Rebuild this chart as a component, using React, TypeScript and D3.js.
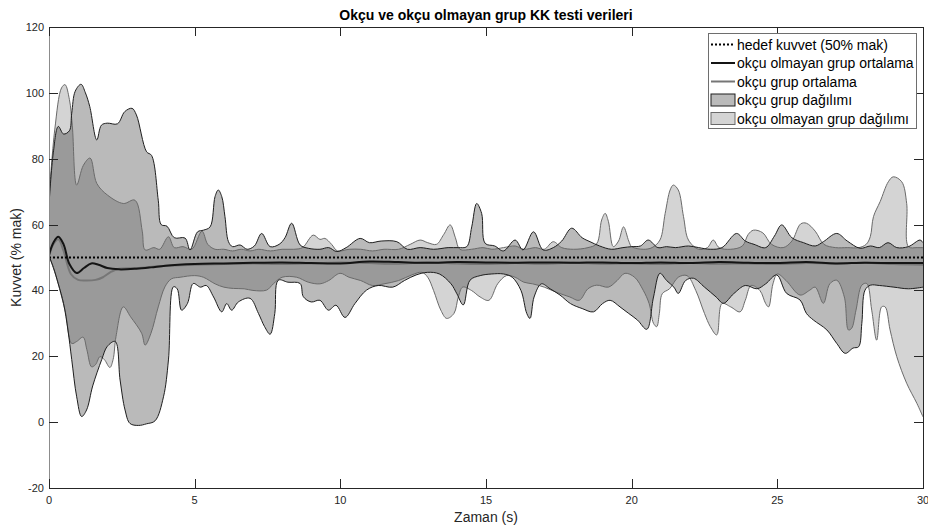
import React from 'react';
import * as d3 from 'd3';

// [time (s), force (% max)]
const archerUpper: [number, number][] = [
  [0, 66], [0.15, 82], [0.32, 89.8], [0.5, 87.5], [0.7, 88.5], [0.78, 93.8], [0.9, 100.5], [1.1, 102.6],
  [1.25, 100], [1.4, 95.8], [1.64, 85.7], [1.8, 90.2], [2.0, 90.8], [2.35, 90.6], [2.6, 94.3], [2.85, 95.3],
  [3.0, 93.3], [3.35, 82.1], [3.52, 81], [3.75, 67.4], [3.85, 60], [4.05, 59.5], [4.3, 56], [4.67, 55.9],
  [4.84, 52.3], [5.1, 57.8], [5.3, 58.3], [5.53, 59.3], [5.7, 68.5], [5.81, 70.5], [5.93, 68.5], [6.04, 62.4],
  [6.16, 54.8], [6.3, 53.3], [6.56, 53.8], [6.8, 52.5], [7.05, 53.5], [7.3, 57.3], [7.59, 53.3], [7.9, 54],
  [8.1, 56], [8.33, 60.4], [8.62, 53.8], [8.9, 52.8], [9.3, 52.5], [9.6, 53], [9.88, 51.8], [10.2, 53],
  [10.68, 55.8], [11.0, 54.5], [11.4, 55], [11.94, 54.8], [12.3, 52.5], [12.74, 53], [13.2, 52.5], [13.7, 53],
  [14.05, 53], [14.34, 53.3], [14.51, 59.3], [14.68, 66.4], [14.85, 63.4], [14.97, 54.3], [15.3, 53.5],
  [15.6, 52], [16.0, 55.3], [16.27, 52.3], [16.63, 57.8], [16.96, 52.3], [17.31, 53], [17.6, 55], [17.94, 58.9],
  [18.3, 56], [18.57, 54.8], [18.9, 53.5], [19.3, 52.5], [19.7, 53], [20.0, 53.3], [20.3, 53.5], [20.57, 55.3],
  [20.9, 53], [21.2, 53.3], [21.5, 53], [21.95, 53.5], [22.3, 53], [22.7, 52.5], [23.1, 53], [23.6, 57.3],
  [23.9, 55], [24.2, 54], [24.6, 53], [24.9, 56.5], [25.15, 59.9], [25.5, 56], [25.9, 54.5], [26.3, 53.5],
  [26.58, 54.8], [27.04, 57.3], [27.4, 55], [27.84, 52.8], [28.2, 53.5], [28.5, 53], [28.8, 54.5], [29.1, 53],
  [29.5, 53.3], [29.9, 55.3], [30, 54.5],
];

const archerLower: [number, number][] = [
  [0, 50.5], [0.15, 47], [0.32, 42], [0.5, 36], [0.65, 28], [0.78, 19], [0.95, 7.7], [1.12, 1.7], [1.29, 3.7],
  [1.5, 11], [1.81, 19], [2.0, 23], [2.27, 24.5], [2.44, 12.8], [2.61, 3.7], [2.78, -0.4], [3.07, -1],
  [3.35, -0.5], [3.64, 0.4], [3.93, 7.7], [4.1, 18.9], [4.27, 41.1], [4.4, 40.5], [4.55, 34], [4.75, 36],
  [4.95, 42.1], [5.2, 41], [5.4, 41.5], [5.65, 38], [5.93, 33.5], [6.1, 36], [6.27, 34], [6.5, 36.5],
  [6.9, 37.6], [7.19, 33], [7.4, 29], [7.59, 26.7], [7.75, 33], [7.87, 43.1], [8.2, 42.5], [8.62, 42.1],
  [8.73, 38.1], [9.0, 36.5], [9.3, 37], [9.59, 34], [9.85, 35.5], [10.16, 31.8], [10.5, 36], [10.9, 40.1],
  [11.3, 41.5], [11.8, 41], [12.2, 43], [12.6, 44.7], [13.0, 45.5], [13.4, 45], [13.8, 42], [14.0, 39],
  [14.22, 35.6], [14.45, 43.1], [14.8, 44.5], [15.2, 45], [15.6, 45], [15.9, 44], [16.2, 40], [16.4, 33],
  [16.51, 31.5], [16.65, 38], [16.9, 42], [17.2, 40.5], [17.54, 38.6], [17.9, 36], [18.3, 34.5], [18.69, 33.5],
  [19.0, 36], [19.26, 37], [19.6, 35], [19.9, 33], [20.2, 31], [20.52, 28.2], [20.75, 38], [20.97, 45.2],
  [21.2, 43], [21.45, 41], [21.6, 39.1], [21.85, 43], [22.12, 43.7], [22.5, 41], [22.9, 38], [23.15, 36.1],
  [23.5, 39], [23.9, 41.5], [24.3, 40.5], [24.6, 42], [24.98, 44.7], [25.32, 39.1], [25.78, 37.1], [26.0, 33],
  [26.24, 31], [26.7, 28], [27.04, 23.9], [27.33, 20.9], [27.6, 22.5], [27.79, 22.9], [27.9, 30], [28.01, 40.1],
  [28.2, 41.6], [28.5, 41.5], [29.0, 41], [29.5, 40.5], [30, 41],
];

const nonArcherUpper: [number, number][] = [
  [0, 68], [0.2, 89], [0.43, 101.5], [0.55, 102.5], [0.7, 98], [0.8, 90], [0.95, 72], [1.18, 78], [1.41, 80.2],
  [1.64, 72.5], [2.0, 69], [2.55, 66.4], [2.95, 67.4], [3.2, 58], [3.3, 52.3], [3.6, 53], [3.8, 52.5],
  [4.1, 56.3], [4.3, 53], [4.6, 53.3], [4.9, 52.5], [5.25, 58], [5.45, 54], [5.7, 52.5], [6.0, 52.5], [6.3, 52],
  [6.6, 52.5], [6.9, 52], [7.2, 52.5], [7.6, 52], [8.0, 52.5], [8.4, 52.5], [8.7, 53], [9.07, 56.8], [9.3, 55.5],
  [9.47, 55.8], [9.7, 54], [9.9, 52], [10.3, 52.5], [10.7, 52.5], [11.1, 52], [11.5, 52.5], [12.0, 52.5],
  [12.4, 54], [12.74, 55.3], [13.0, 54.5], [13.3, 54], [13.55, 57], [13.77, 59.9], [13.95, 56], [14.1, 52.5],
  [14.5, 52.5], [14.9, 53], [15.2, 52.5], [15.6, 53], [16.0, 53.5], [16.3, 52.5], [16.7, 53], [17.0, 52.5],
  [17.31, 54.8], [17.6, 53], [18.0, 52.5], [18.5, 53], [18.8, 54.2], [18.97, 61.4], [19.09, 63.4], [19.2, 61],
  [19.37, 53.3], [19.55, 55], [19.72, 59.3], [19.9, 55], [20.0, 53.3], [20.4, 52.5], [20.7, 53], [20.97, 55.3],
  [21.15, 63.4], [21.32, 70.5], [21.43, 72], [21.6, 70.5], [21.78, 62.4], [21.95, 55.3], [22.3, 52.5],
  [22.6, 53], [22.8, 55.3], [23.0, 53], [23.4, 52.5], [23.8, 53.5], [24.0, 57], [24.18, 58.3], [24.5, 57.5],
  [24.8, 54], [25.2, 53], [25.5, 55], [25.8, 60.2], [26.0, 60.4], [26.3, 58], [26.6, 54], [27.0, 53],
  [27.4, 53], [27.8, 53], [28.05, 54], [28.19, 56.3], [28.3, 62.4], [28.53, 67], [28.81, 73], [28.98, 74.5],
  [29.27, 73], [29.44, 66.4], [29.5, 53.3], [29.8, 53], [30, 53],
];

const nonArcherLower: [number, number][] = [
  [0, 50.5], [0.21, 45.2], [0.55, 34], [0.78, 23.9], [0.95, 24.5], [1.17, 25.8], [1.3, 22], [1.46, 16.8],
  [1.6, 17.5], [1.75, 19.9], [1.9, 19], [2.09, 16.6], [2.2, 19], [2.3, 26], [2.55, 35], [2.8, 32], [3.18, 27],
  [3.3, 23.4], [3.5, 27], [3.75, 35], [3.98, 41.1], [4.2, 43.5], [4.5, 44], [5.0, 44.5], [5.3, 44], [5.7, 42],
  [6.0, 41], [6.33, 40.6], [6.7, 40.5], [7.0, 40], [7.47, 40.1], [7.7, 42], [8.0, 44], [8.5, 44], [8.9, 42.5],
  [9.3, 42], [9.6, 43], [9.99, 45.2], [10.3, 44], [10.7, 43], [11.1, 41.5], [11.5, 42], [12.0, 43],
  [12.45, 44.7], [12.8, 45.5], [13.0, 44], [13.2, 40], [13.45, 34], [13.65, 31.5], [13.9, 33], [14.05, 38],
  [14.2, 41], [14.5, 40], [14.8, 38], [15.1, 37], [15.4, 42], [15.7, 44.5], [16.0, 44], [16.3, 42.5],
  [16.6, 42], [17.0, 41], [17.4, 39.5], [17.88, 38], [18.2, 37], [18.5, 40.5], [18.8, 41.6], [19.2, 41],
  [19.5, 43], [19.77, 45.2], [20.1, 44], [20.4, 40], [20.6, 36], [20.75, 30], [20.86, 29], [20.95, 33],
  [21.05, 39], [21.3, 40.5], [21.6, 44], [21.9, 44.5], [22.2, 40], [22.5, 33], [22.7, 29], [22.92, 26.5],
  [23.1, 36], [23.4, 35], [23.72, 33.5], [23.9, 37], [24.1, 41.5], [24.4, 40], [24.6, 36], [24.7, 35],
  [24.85, 42], [25.0, 45], [25.3, 43], [25.78, 38.6], [26.1, 40], [26.3, 41], [26.58, 36.1], [26.8, 42],
  [27.04, 43.1], [27.3, 38], [27.44, 28], [27.55, 28.5], [27.7, 34], [27.9, 41.6], [28.07, 42.1], [28.24, 34],
  [28.41, 24.9], [28.58, 35], [28.7, 35], [28.87, 28], [29.1, 19.9], [29.44, 11.8], [29.79, 5.7], [30, 1.6],
];

const nonArcherMean: [number, number][] = [
  [0, 50.8], [0.15, 54.5], [0.32, 56.3], [0.5, 54], [0.7, 48], [0.95, 45.3], [1.2, 46.8], [1.45, 48.2],
  [1.7, 47.8], [2.0, 46.8], [2.4, 46.4], [3.0, 46.6], [3.5, 47], [4.0, 47.5], [5.0, 48], [6.0, 48.2], [7.0, 48.4],
  [8.0, 48.5], [9.0, 48.3], [10.0, 48.2], [11.0, 48.8], [12.0, 48.6], [13.0, 48.4], [14.0, 48.6], [15.0, 48.5],
  [16.0, 48.4], [17.0, 48.5], [18.0, 48.4], [19.0, 48.5], [20.0, 48.3], [21.0, 48.5], [22.0, 48.3], [23.0, 48.6],
  [24.0, 48.4], [25.0, 48.3], [26.0, 48.6], [27.0, 48.2], [28.0, 48.4], [29.0, 48.3], [30, 48.3],
];

const archerMean: [number, number][] = [
  [0, 50.3], [0.15, 54], [0.32, 55.5], [0.5, 52], [0.75, 45], [1.0, 43.2], [1.3, 43], [1.6, 43.2], [1.85, 44],
  [2.1, 45.5], [2.4, 46.6], [3.0, 46.8], [4.0, 47.5], [5.0, 47.8], [6.0, 48], [7.0, 48.2], [8.0, 48], [9.0, 48.2],
  [10.0, 48.5], [11.0, 48.3], [12.0, 48.1], [13.0, 48.5], [14.0, 48.2], [15.0, 48], [16.0, 48.3], [17.0, 48.1],
  [18.0, 48.4], [19.0, 48.1], [20.0, 48.2], [21.0, 48], [22.0, 48.3], [23.0, 48.1], [24.0, 48.2], [25.0, 48],
  [26.0, 48.3], [27.0, 48.2], [28.0, 48.4], [29.0, 48], [30, 47.8],
];

const targetLevel = 50;
const xTicks = [0, 5, 10, 15, 20, 25, 30];
const yTicks = [-20, 0, 20, 40, 60, 80, 100, 120];

const legendItems = [
  'hedef kuvvet (50% mak)',
  'okçu olmayan grup ortalama',
  'okçu grup ortalama',
  'okçu grup dağılımı',
  'okçu olmayan grup dağılımı',
];

const font = 'Liberation Sans, Arial, Helvetica, sans-serif';
const axisColor = '#262626';

export default function App() {
  const x = d3.scaleLinear().domain([0, 30]).range([49, 923]);
  const y = d3.scaleLinear().domain([-20, 120]).range([488, 27]);

  const smooth = d3
    .line<[number, number]>()
    .x(d => x(d[0]))
    .y(d => y(d[1]))
    .curve(d3.curveCatmullRom.alpha(0.5));

  // closed band: upper edge forward, lower edge back
  const band = (upper: [number, number][], lower: [number, number][]) => {
    const up = smooth(upper) as string;
    const lo = smooth(lower.slice().reverse()) as string;
    return up + 'L' + lo.slice(1) + 'Z';
  };

  const [x0, x1] = x.range();
  const [yb, yt] = y.range();

  const lgX = 708.5, lgY = 33.5, lgW = 208, lgH = 95, rowH = 18.5;

  return (
    <div style={{ position: 'fixed', left: 0, top: 0 }}>
      <svg width={928} height={528} style={{ display: 'block', background: '#fff' }}>
        <defs>
          <clipPath id="plot">
            <rect x={x0} y={yt} width={x1 - x0} height={yb - yt} />
          </clipPath>
        </defs>

        <g clipPath="url(#plot)">
          <path d={band(archerUpper, archerLower)} fill="#000" fillOpacity={0.27} />
          <path d={band(nonArcherUpper, nonArcherLower)} fill="#000" fillOpacity={0.17} />
          <path d={smooth(nonArcherUpper) as string} fill="none" stroke="#6a6a6a" strokeWidth={1} />
          <path d={smooth(nonArcherLower) as string} fill="none" stroke="#6a6a6a" strokeWidth={1} />
          <path d={smooth(archerUpper) as string} fill="none" stroke="#1e1e1e" strokeWidth={1} />
          <path d={smooth(archerLower) as string} fill="none" stroke="#1e1e1e" strokeWidth={1} />
          <path d={smooth(archerMean) as string} fill="none" stroke="#767676" strokeWidth={2} />
          <path d={smooth(nonArcherMean) as string} fill="none" stroke="#141414" strokeWidth={2} />
          <line x1={x0} x2={x1} y1={y(targetLevel)} y2={y(targetLevel)} stroke="#000" strokeWidth={2} strokeDasharray="2 2" />
        </g>

        {/* axes box */}
        <line x1={x0} x2={x1} y1={yb + 0.5} y2={yb + 0.5} stroke={axisColor} />
        <line x1={x0} x2={x1} y1={yt + 0.5} y2={yt + 0.5} stroke={axisColor} />
        <line x1={x0 + 0.5} x2={x0 + 0.5} y1={yt} y2={yb} stroke="#8c8c8c" />
        <line x1={x1 + 0.5} x2={x1 + 0.5} y1={yt} y2={yb + 1} stroke={axisColor} />

        {xTicks.map(t => (
          <g key={'x' + t}>
            <line x1={Math.round(x(t)) + 0.5} x2={Math.round(x(t)) + 0.5} y1={yb} y2={yb - 9} stroke={axisColor} />
            <line x1={Math.round(x(t)) + 0.5} x2={Math.round(x(t)) + 0.5} y1={yt} y2={yt + 9} stroke={axisColor} />
            <text x={x(t)} y={yb + 16} textAnchor="middle" fontFamily={font} fontSize={11} fill={axisColor}>
              {t}
            </text>
          </g>
        ))}
        {yTicks.map(v => (
          <g key={'y' + v}>
            <line x1={x0} x2={x0 + 9} y1={Math.round(y(v)) + 0.5} y2={Math.round(y(v)) + 0.5} stroke={axisColor} />
            <line x1={x1} x2={x1 - 9} y1={Math.round(y(v)) + 0.5} y2={Math.round(y(v)) + 0.5} stroke={axisColor} />
            <text x={x0 - 5} y={y(v) + 4} textAnchor="end" fontFamily={font} fontSize={11} fill={axisColor}>
              {v}
            </text>
          </g>
        ))}

        <text x={(x0 + x1) / 2} y={20} textAnchor="middle" fontFamily={font} fontSize={14} fontWeight="bold" fill="#000">
          Okçu ve okçu olmayan grup KK testi verileri
        </text>
        <text x={(x0 + x1) / 2} y={522} textAnchor="middle" fontFamily={font} fontSize={14} fill={axisColor}>
          Zaman (s)
        </text>
        <text
          transform={`translate(21,${(yt + yb) / 2}) rotate(-90)`}
          textAnchor="middle"
          fontFamily={font}
          fontSize={14}
          fill={axisColor}
        >
          Kuvvet (% mak)
        </text>

        {/* legend */}
        <rect x={lgX} y={lgY} width={lgW} height={lgH} fill="#fff" stroke="#6e6e6e" />
        {legendItems.map((label, i) => {
          const cy = lgY + 11 + i * rowH;
          const sx0 = lgX + 2.5, sx1 = lgX + 26.5;
          let sample: React.ReactNode = null;
          if (i === 0) sample = <line x1={sx0} x2={sx1} y1={cy} y2={cy} stroke="#000" strokeWidth={2} strokeDasharray="2 2" />;
          if (i === 1) sample = <line x1={sx0} x2={sx1} y1={cy} y2={cy} stroke="#141414" strokeWidth={2} />;
          if (i === 2) sample = <line x1={sx0} x2={sx1} y1={cy} y2={cy} stroke="#767676" strokeWidth={2} />;
          if (i === 3) sample = <rect x={sx0} y={cy - 6} width={sx1 - sx0} height={12} fill="#000" fillOpacity={0.27} stroke="#1e1e1e" />;
          if (i === 4) sample = <rect x={sx0} y={cy - 6} width={sx1 - sx0} height={12} fill="#000" fillOpacity={0.17} stroke="#6a6a6a" />;
          return (
            <g key={label}>
              {sample}
              <text x={lgX + 28.5} y={cy + 5} fontFamily={font} fontSize={14} fill="#000">
                {label}
              </text>
            </g>
          );
        })}
      </svg>
    </div>
  );
}
